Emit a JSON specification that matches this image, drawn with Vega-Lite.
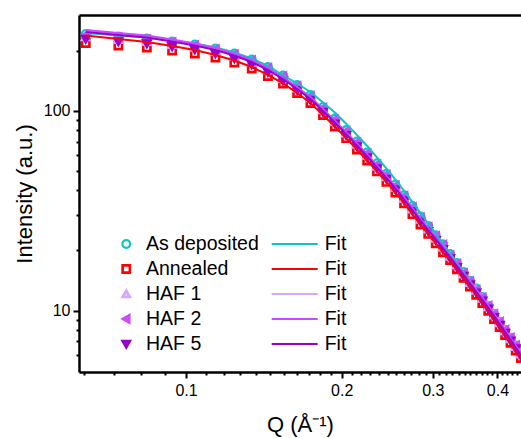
{
  "$schema": "https://vega.github.io/schema/vega-lite/v6.json",
  "width": 442,
  "height": 357,
  "autosize": {"type": "none"},
  "padding": {"left": 79, "top": 15, "right": 0, "bottom": 66},
  "background": "white",
  "config": {"view": {"stroke": null}, "font": "Liberation Sans"},
  "data": {"values": [
    {"q":0.064,"s":"As deposited","i":243.2,"f":246.1},{"q":0.074,"s":"As deposited","i":236.2,"f":239.0},{"q":0.084,"s":"As deposited","i":230.8,"f":233.5},{"q":0.094,"s":"As deposited","i":223.0,"f":225.6},{"q":0.104,"s":"As deposited","i":215.5,"f":218.0},{"q":0.114,"s":"As deposited","i":205.7,"f":208.1},{"q":0.124,"s":"As deposited","i":194.2,"f":196.4},{"q":0.134,"s":"As deposited","i":181.3,"f":183.4},{"q":0.144,"s":"As deposited","i":166.2,"f":168.2},{"q":0.154,"s":"As deposited","i":150.6,"f":151.5},{"q":0.164,"s":"As deposited","i":135.0,"f":137.3},{"q":0.174,"s":"As deposited","i":120.2,"f":124.5},{"q":0.184,"s":"As deposited","i":104.8,"f":110.4},{"q":0.194,"s":"As deposited","i":91.6,"f":98.2},{"q":0.204,"s":"As deposited","i":80.2,"f":86.4},{"q":0.214,"s":"As deposited","i":70.3,"f":75.8},{"q":0.224,"s":"As deposited","i":62.0,"f":66.8},{"q":0.234,"s":"As deposited","i":54.7,"f":58.6},{"q":0.244,"s":"As deposited","i":48.4,"f":51.6},{"q":0.254,"s":"As deposited","i":42.8,"f":45.3},{"q":0.264,"s":"As deposited","i":37.8,"f":39.8},{"q":0.274,"s":"As deposited","i":33.4,"f":34.9},{"q":0.284,"s":"As deposited","i":29.6,"f":30.8},{"q":0.294,"s":"As deposited","i":26.5,"f":27.3},{"q":0.304,"s":"As deposited","i":23.8,"f":24.3},{"q":0.314,"s":"As deposited","i":21.5,"f":21.6},{"q":0.324,"s":"As deposited","i":19.2,"f":19.4},{"q":0.334,"s":"As deposited","i":17.3,"f":17.4},{"q":0.344,"s":"As deposited","i":15.6,"f":15.6},{"q":0.354,"s":"As deposited","i":14.1,"f":14.1},{"q":0.364,"s":"As deposited","i":12.9,"f":12.7},{"q":0.374,"s":"As deposited","i":11.7,"f":11.6},{"q":0.384,"s":"As deposited","i":10.56,"f":10.5},{"q":0.394,"s":"As deposited","i":9.6,"f":9.54},{"q":0.404,"s":"As deposited","i":8.76,"f":8.71},{"q":0.414,"s":"As deposited","i":7.99,"f":7.95},{"q":0.424,"s":"As deposited","i":7.3,"f":7.21},{"q":0.434,"s":"As deposited","i":6.68,"f":6.6},{"q":0.444,"s":"As deposited","i":6.12,"f":6.05},
    {"q":0.064,"s":"Annealed","i":219.2,"f":239.1},{"q":0.074,"s":"Annealed","i":212.9,"f":229.5},{"q":0.084,"s":"Annealed","i":208.1,"f":221.7},{"q":0.094,"s":"Annealed","i":201.0,"f":211.7},{"q":0.104,"s":"Annealed","i":194.2,"f":202.2},{"q":0.114,"s":"Annealed","i":185.4,"f":190.9},{"q":0.124,"s":"Annealed","i":175.0,"f":179.1},{"q":0.134,"s":"Annealed","i":163.4,"f":166.2},{"q":0.144,"s":"Annealed","i":149.8,"f":151.6},{"q":0.154,"s":"Annealed","i":137.4,"f":137.4},{"q":0.164,"s":"Annealed","i":123.1,"f":123.1},{"q":0.174,"s":"Annealed","i":109.6,"f":109.6},{"q":0.184,"s":"Annealed","i":95.5,"f":95.5},{"q":0.194,"s":"Annealed","i":83.6,"f":83.6},{"q":0.204,"s":"Annealed","i":73.1,"f":73.1},{"q":0.214,"s":"Annealed","i":64.1,"f":64.1},{"q":0.224,"s":"Annealed","i":56.5,"f":56.5},{"q":0.234,"s":"Annealed","i":49.8,"f":49.8},{"q":0.244,"s":"Annealed","i":44.1,"f":44.1},{"q":0.254,"s":"Annealed","i":39.0,"f":39.0},{"q":0.264,"s":"Annealed","i":34.5,"f":34.5},{"q":0.274,"s":"Annealed","i":30.4,"f":30.4},{"q":0.284,"s":"Annealed","i":27.0,"f":27.0},{"q":0.294,"s":"Annealed","i":24.2,"f":24.2},{"q":0.304,"s":"Annealed","i":21.7,"f":21.7},{"q":0.314,"s":"Annealed","i":19.6,"f":19.6},{"q":0.324,"s":"Annealed","i":17.9,"f":17.9},{"q":0.334,"s":"Annealed","i":16.1,"f":16.1},{"q":0.344,"s":"Annealed","i":14.6,"f":14.6},{"q":0.354,"s":"Annealed","i":13.2,"f":13.2},{"q":0.364,"s":"Annealed","i":12.0,"f":12.0},{"q":0.374,"s":"Annealed","i":10.9,"f":10.9},{"q":0.384,"s":"Annealed","i":9.97,"f":9.97},{"q":0.394,"s":"Annealed","i":9.06,"f":9.06},{"q":0.404,"s":"Annealed","i":8.27,"f":8.27},{"q":0.414,"s":"Annealed","i":7.54,"f":7.54},{"q":0.424,"s":"Annealed","i":6.89,"f":6.89},{"q":0.434,"s":"Annealed","i":6.3,"f":6.3},{"q":0.444,"s":"Annealed","i":5.78,"f":5.78},
    {"q":0.064,"s":"HAF 1","i":235.0,"f":251.8},{"q":0.074,"s":"HAF 1","i":228.2,"f":243.2},{"q":0.084,"s":"HAF 1","i":223.0,"f":236.2},{"q":0.094,"s":"HAF 1","i":215.4,"f":225.6},{"q":0.104,"s":"HAF 1","i":208.2,"f":215.5},{"q":0.114,"s":"HAF 1","i":198.7,"f":204.6},{"q":0.124,"s":"HAF 1","i":187.6,"f":192.0},{"q":0.134,"s":"HAF 1","i":175.1,"f":178.2},{"q":0.144,"s":"HAF 1","i":160.6,"f":162.4},{"q":0.154,"s":"HAF 1","i":145.5,"f":146.4},{"q":0.164,"s":"HAF 1","i":130.4,"f":130.4},{"q":0.174,"s":"HAF 1","i":116.2,"f":116.2},{"q":0.184,"s":"HAF 1","i":101.2,"f":101.2},{"q":0.194,"s":"HAF 1","i":88.5,"f":88.5},{"q":0.204,"s":"HAF 1","i":77.5,"f":77.5},{"q":0.214,"s":"HAF 1","i":68.0,"f":68.0},{"q":0.224,"s":"HAF 1","i":59.9,"f":59.9},{"q":0.234,"s":"HAF 1","i":52.8,"f":52.8},{"q":0.244,"s":"HAF 1","i":46.8,"f":46.8},{"q":0.254,"s":"HAF 1","i":41.3,"f":41.3},{"q":0.264,"s":"HAF 1","i":36.5,"f":36.5},{"q":0.274,"s":"HAF 1","i":32.2,"f":32.2},{"q":0.284,"s":"HAF 1","i":28.6,"f":28.6},{"q":0.294,"s":"HAF 1","i":25.6,"f":25.6},{"q":0.304,"s":"HAF 1","i":23.0,"f":23.0},{"q":0.314,"s":"HAF 1","i":20.8,"f":20.8},{"q":0.324,"s":"HAF 1","i":18.7,"f":18.7},{"q":0.334,"s":"HAF 1","i":16.9,"f":16.9},{"q":0.344,"s":"HAF 1","i":15.2,"f":15.2},{"q":0.354,"s":"HAF 1","i":13.8,"f":13.8},{"q":0.364,"s":"HAF 1","i":12.6,"f":12.6},{"q":0.374,"s":"HAF 1","i":11.5,"f":11.5},{"q":0.384,"s":"HAF 1","i":10.44,"f":10.44},{"q":0.394,"s":"HAF 1","i":9.49,"f":9.49},{"q":0.404,"s":"HAF 1","i":8.66,"f":8.66},{"q":0.414,"s":"HAF 1","i":7.9,"f":7.9},{"q":0.424,"s":"HAF 1","i":7.21,"f":7.21},{"q":0.434,"s":"HAF 1","i":6.6,"f":6.6},{"q":0.444,"s":"HAF 1","i":6.05,"f":6.05},
    {"q":0.064,"s":"HAF 2","i":240.5,"f":254.7},{"q":0.074,"s":"HAF 2","i":233.6,"f":246.0},{"q":0.084,"s":"HAF 2","i":228.2,"f":239.0},{"q":0.094,"s":"HAF 2","i":220.5,"f":228.2},{"q":0.104,"s":"HAF 2","i":213.0,"f":218.0},{"q":0.114,"s":"HAF 2","i":203.4,"f":206.9},{"q":0.124,"s":"HAF 2","i":192.0,"f":194.2},{"q":0.134,"s":"HAF 2","i":179.2,"f":180.2},{"q":0.144,"s":"HAF 2","i":164.3,"f":164.3},{"q":0.154,"s":"HAF 2","i":148.9,"f":148.1},{"q":0.164,"s":"HAF 2","i":133.4,"f":131.9},{"q":0.174,"s":"HAF 2","i":118.9,"f":117.5},{"q":0.184,"s":"HAF 2","i":103.6,"f":102.4},{"q":0.194,"s":"HAF 2","i":90.6,"f":89.5},{"q":0.204,"s":"HAF 2","i":79.3,"f":78.4},{"q":0.214,"s":"HAF 2","i":69.5,"f":68.7},{"q":0.224,"s":"HAF 2","i":61.3,"f":60.6},{"q":0.234,"s":"HAF 2","i":54.0,"f":53.4},{"q":0.244,"s":"HAF 2","i":47.9,"f":47.3},{"q":0.254,"s":"HAF 2","i":42.3,"f":41.8},{"q":0.264,"s":"HAF 2","i":37.4,"f":37.0},{"q":0.274,"s":"HAF 2","i":33.0,"f":32.6},{"q":0.284,"s":"HAF 2","i":29.2,"f":28.9},{"q":0.294,"s":"HAF 2","i":26.2,"f":25.9},{"q":0.304,"s":"HAF 2","i":23.6,"f":23.3},{"q":0.314,"s":"HAF 2","i":21.3,"f":21.0},{"q":0.324,"s":"HAF 2","i":18.9,"f":18.8},{"q":0.334,"s":"HAF 2","i":17.1,"f":17.1},{"q":0.344,"s":"HAF 2","i":15.4,"f":15.4},{"q":0.354,"s":"HAF 2","i":14.0,"f":14.0},{"q":0.364,"s":"HAF 2","i":12.7,"f":12.7},{"q":0.374,"s":"HAF 2","i":11.6,"f":11.6},{"q":0.384,"s":"HAF 2","i":10.56,"f":10.56},{"q":0.394,"s":"HAF 2","i":9.6,"f":9.6},{"q":0.404,"s":"HAF 2","i":8.76,"f":8.76},{"q":0.414,"s":"HAF 2","i":7.99,"f":7.99},{"q":0.424,"s":"HAF 2","i":7.3,"f":7.3},{"q":0.434,"s":"HAF 2","i":6.68,"f":6.68},{"q":0.444,"s":"HAF 2","i":6.12,"f":6.12},
    {"q":0.064,"s":"HAF 5","i":229.6,"f":248.9},{"q":0.074,"s":"HAF 5","i":223.0,"f":240.4},{"q":0.084,"s":"HAF 5","i":217.9,"f":233.5},{"q":0.094,"s":"HAF 5","i":210.5,"f":223.0},{"q":0.104,"s":"HAF 5","i":203.4,"f":213.0},{"q":0.114,"s":"HAF 5","i":194.2,"f":202.2},{"q":0.124,"s":"HAF 5","i":183.3,"f":189.8},{"q":0.134,"s":"HAF 5","i":171.1,"f":176.1},{"q":0.144,"s":"HAF 5","i":156.9,"f":160.6},{"q":0.154,"s":"HAF 5","i":142.2,"f":144.7},{"q":0.164,"s":"HAF 5","i":127.4,"f":128.9},{"q":0.174,"s":"HAF 5","i":113.5,"f":114.8},{"q":0.184,"s":"HAF 5","i":98.9,"f":100.0},{"q":0.194,"s":"HAF 5","i":86.5,"f":87.5},{"q":0.204,"s":"HAF 5","i":75.7,"f":76.6},{"q":0.214,"s":"HAF 5","i":66.4,"f":67.2},{"q":0.224,"s":"HAF 5","i":58.5,"f":59.2},{"q":0.234,"s":"HAF 5","i":51.6,"f":52.2},{"q":0.244,"s":"HAF 5","i":45.7,"f":46.2},{"q":0.254,"s":"HAF 5","i":40.4,"f":40.9},{"q":0.264,"s":"HAF 5","i":35.7,"f":36.1},{"q":0.274,"s":"HAF 5","i":31.5,"f":31.9},{"q":0.284,"s":"HAF 5","i":27.9,"f":28.2},{"q":0.294,"s":"HAF 5","i":25.0,"f":25.3},{"q":0.304,"s":"HAF 5","i":22.5,"f":22.8},{"q":0.314,"s":"HAF 5","i":20.3,"f":20.5},{"q":0.324,"s":"HAF 5","i":18.3,"f":18.5},{"q":0.334,"s":"HAF 5","i":16.5,"f":16.7},{"q":0.344,"s":"HAF 5","i":14.9,"f":15.1},{"q":0.354,"s":"HAF 5","i":13.5,"f":13.7},{"q":0.364,"s":"HAF 5","i":12.3,"f":12.4},{"q":0.374,"s":"HAF 5","i":11.2,"f":11.3},{"q":0.384,"s":"HAF 5","i":10.2,"f":10.32},{"q":0.394,"s":"HAF 5","i":9.27,"f":9.38},{"q":0.404,"s":"HAF 5","i":8.46,"f":8.56},{"q":0.414,"s":"HAF 5","i":7.72,"f":7.81},{"q":0.424,"s":"HAF 5","i":7.05,"f":7.13},{"q":0.434,"s":"HAF 5","i":6.45,"f":6.52},{"q":0.444,"s":"HAF 5","i":5.91,"f":5.98}
  ]},
  "layer": [
    {
      "mark": {"type": "point", "filled": false, "opacity": 1, "clip": true},
      "encoding": {
        "x": {"field": "q", "type": "quantitative",
          "scale": {"type": "log", "domain": [0.0621, 0.4443], "nice": false, "zero": false},
          "axis": {"orient": "bottom", "grid": false,
            "values": [0.0636,0.0727,0.0818,0.0909,0.1,0.1091,0.1182,0.1273,0.1364,0.1455,0.1545,0.1636,0.1727,0.1818,0.1909,0.2,0.2091,0.2182,0.2273,0.2364,0.2455,0.2545,0.2636,0.2727,0.2818,0.2909,0.3,0.3091,0.3182,0.3273,0.3364,0.3455,0.3545,0.3636,0.3727,0.3818,0.3909,0.4,0.4091,0.4182,0.4273,0.4364],
            "labelExpr": "datum.value==0.1?'0.1':datum.value==0.2?'0.2':datum.value==0.3?'0.3':datum.value==0.4?'0.4':''",
            "tickSize": {"condition": {"test": "datum.value==0.1||datum.value==0.2||datum.value==0.3||datum.value==0.4", "value": 6}, "value": 3},
            "title": "Q (Å⁻¹)", "titleFont": "Liberation Sans", "titleFontSize": 22, "titleFontWeight": "normal", "titleColor": "black", "titlePadding": 16,
            "labelFont": "Liberation Sans", "labelFontSize": 16, "labelColor": "black", "labelPadding": 4, "labelOverlap": false, "labelFlush": false,
            "domainColor": "black", "domainWidth": 2.5, "tickColor": "black", "tickWidth": 2}},
        "y": {"field": "i", "type": "quantitative",
          "scale": {"type": "log", "domain": [4.918, 302.8], "nice": false, "zero": false},
          "axis": {"grid": false, "values": [6,7,8,9,10,20,30,40,50,60,70,80,90,100,200],
            "labelExpr": "datum.value==10?'10':datum.value==100?'100':''",
            "tickSize": {"condition": {"test": "datum.value==10||datum.value==100", "value": 6}, "value": 3},
            "title": "Intensity (a.u.)", "titleFont": "Liberation Sans", "titleFontSize": 22, "titleFontWeight": "normal", "titleColor": "black", "titlePadding": 7,
            "labelFont": "Liberation Sans", "labelFontSize": 16, "labelColor": "black", "labelPadding": 3, "labelOverlap": false, "labelFlush": false,
            "domainColor": "black", "domainWidth": 2.5, "tickColor": "black", "tickWidth": 2}},
        "color": {"field": "s", "type": "nominal",
          "scale": {"domain": ["As deposited","Annealed","HAF 1","HAF 2","HAF 5"], "range": ["#10C4C4","#FF0000","#D6A8FF","#C84BFF","#9A00CC"]},
          "legend": {"title": null, "orient": "none", "legendX": 37.5, "legendY": 216.6, "padding": 0, "labelFont": "Liberation Sans", "labelFontSize": 19.5, "labelColor": "black", "clipHeight": 24.7, "rowPadding": 0, "labelOffset": 10, "symbolSize": 80, "symbolStrokeWidth": 2, "symbolOpacity": 1, "symbolFillColor": "transparent"}},
        "shape": {"field": "s", "type": "nominal",
          "scale": {"domain": ["As deposited","Annealed","HAF 1","HAF 2","HAF 5"], "range": ["circle","square","triangle-up","triangle-left","triangle-down"]}},
        "size": {"field": "s", "type": "nominal",
          "scale": {"domain": ["As deposited","Annealed","HAF 1","HAF 2","HAF 5"], "range": [60,30,120,120,120]}, "legend": null},
        "strokeWidth": {"field": "s", "type": "nominal",
          "scale": {"domain": ["As deposited","Annealed","HAF 1","HAF 2","HAF 5"], "range": [2.3,3.6,2.5,2.5,2.5]}, "legend": null}
      }
    },
    {
      "mark": {"type": "line", "strokeWidth": 2, "clip": true},
      "encoding": {
        "x": {"field": "q", "type": "quantitative",
          "scale": {"type": "log", "domain": [0.0621, 0.4443], "nice": false, "zero": false},
          "axis": {"orient": "top", "labels": false, "ticks": false, "title": null, "grid": false, "domainColor": "black", "domainWidth": 2.5}},
        "y": {"field": "f", "type": "quantitative",
          "scale": {"type": "log", "domain": [4.918, 302.8], "nice": false, "zero": false},
          "axis": {"grid": false, "values": [6,7,8,9,10,20,30,40,50,60,70,80,90,100,200],
            "labelExpr": "datum.value==10?'10':datum.value==100?'100':''",
            "tickSize": {"condition": {"test": "datum.value==10||datum.value==100", "value": 6}, "value": 3},
            "title": "Intensity (a.u.)", "titleFont": "Liberation Sans", "titleFontSize": 22, "titleFontWeight": "normal", "titleColor": "black", "titlePadding": 7,
            "labelFont": "Liberation Sans", "labelFontSize": 16, "labelColor": "black", "labelPadding": 3, "labelOverlap": false, "labelFlush": false,
            "domainColor": "black", "domainWidth": 2.5, "tickColor": "black", "tickWidth": 2}},
        "stroke": {"field": "s", "type": "nominal",
          "scale": {"domain": ["Annealed","As deposited","HAF 1","HAF 2","HAF 5"], "range": ["#FF0000","#10C4C4","#D6A8FF","#C84BFF","#9A00CC"]},
          "legend": {"title": null, "orient": "none", "legendX": 191.7, "legendY": 216.6, "padding": 0, "values": ["As deposited","Annealed","HAF 1","HAF 2","HAF 5"], "labelFont": "Liberation Sans", "labelFontSize": 19.5, "labelColor": "black", "clipHeight": 24.7, "rowPadding": 0, "labelOffset": 6, "symbolType": "stroke", "symbolSize": 2116, "symbolStrokeWidth": 2, "labelExpr": "'Fit'"}}
      }
    }
  ],
  "resolve": {"axis": {"x": "independent"}}
}
